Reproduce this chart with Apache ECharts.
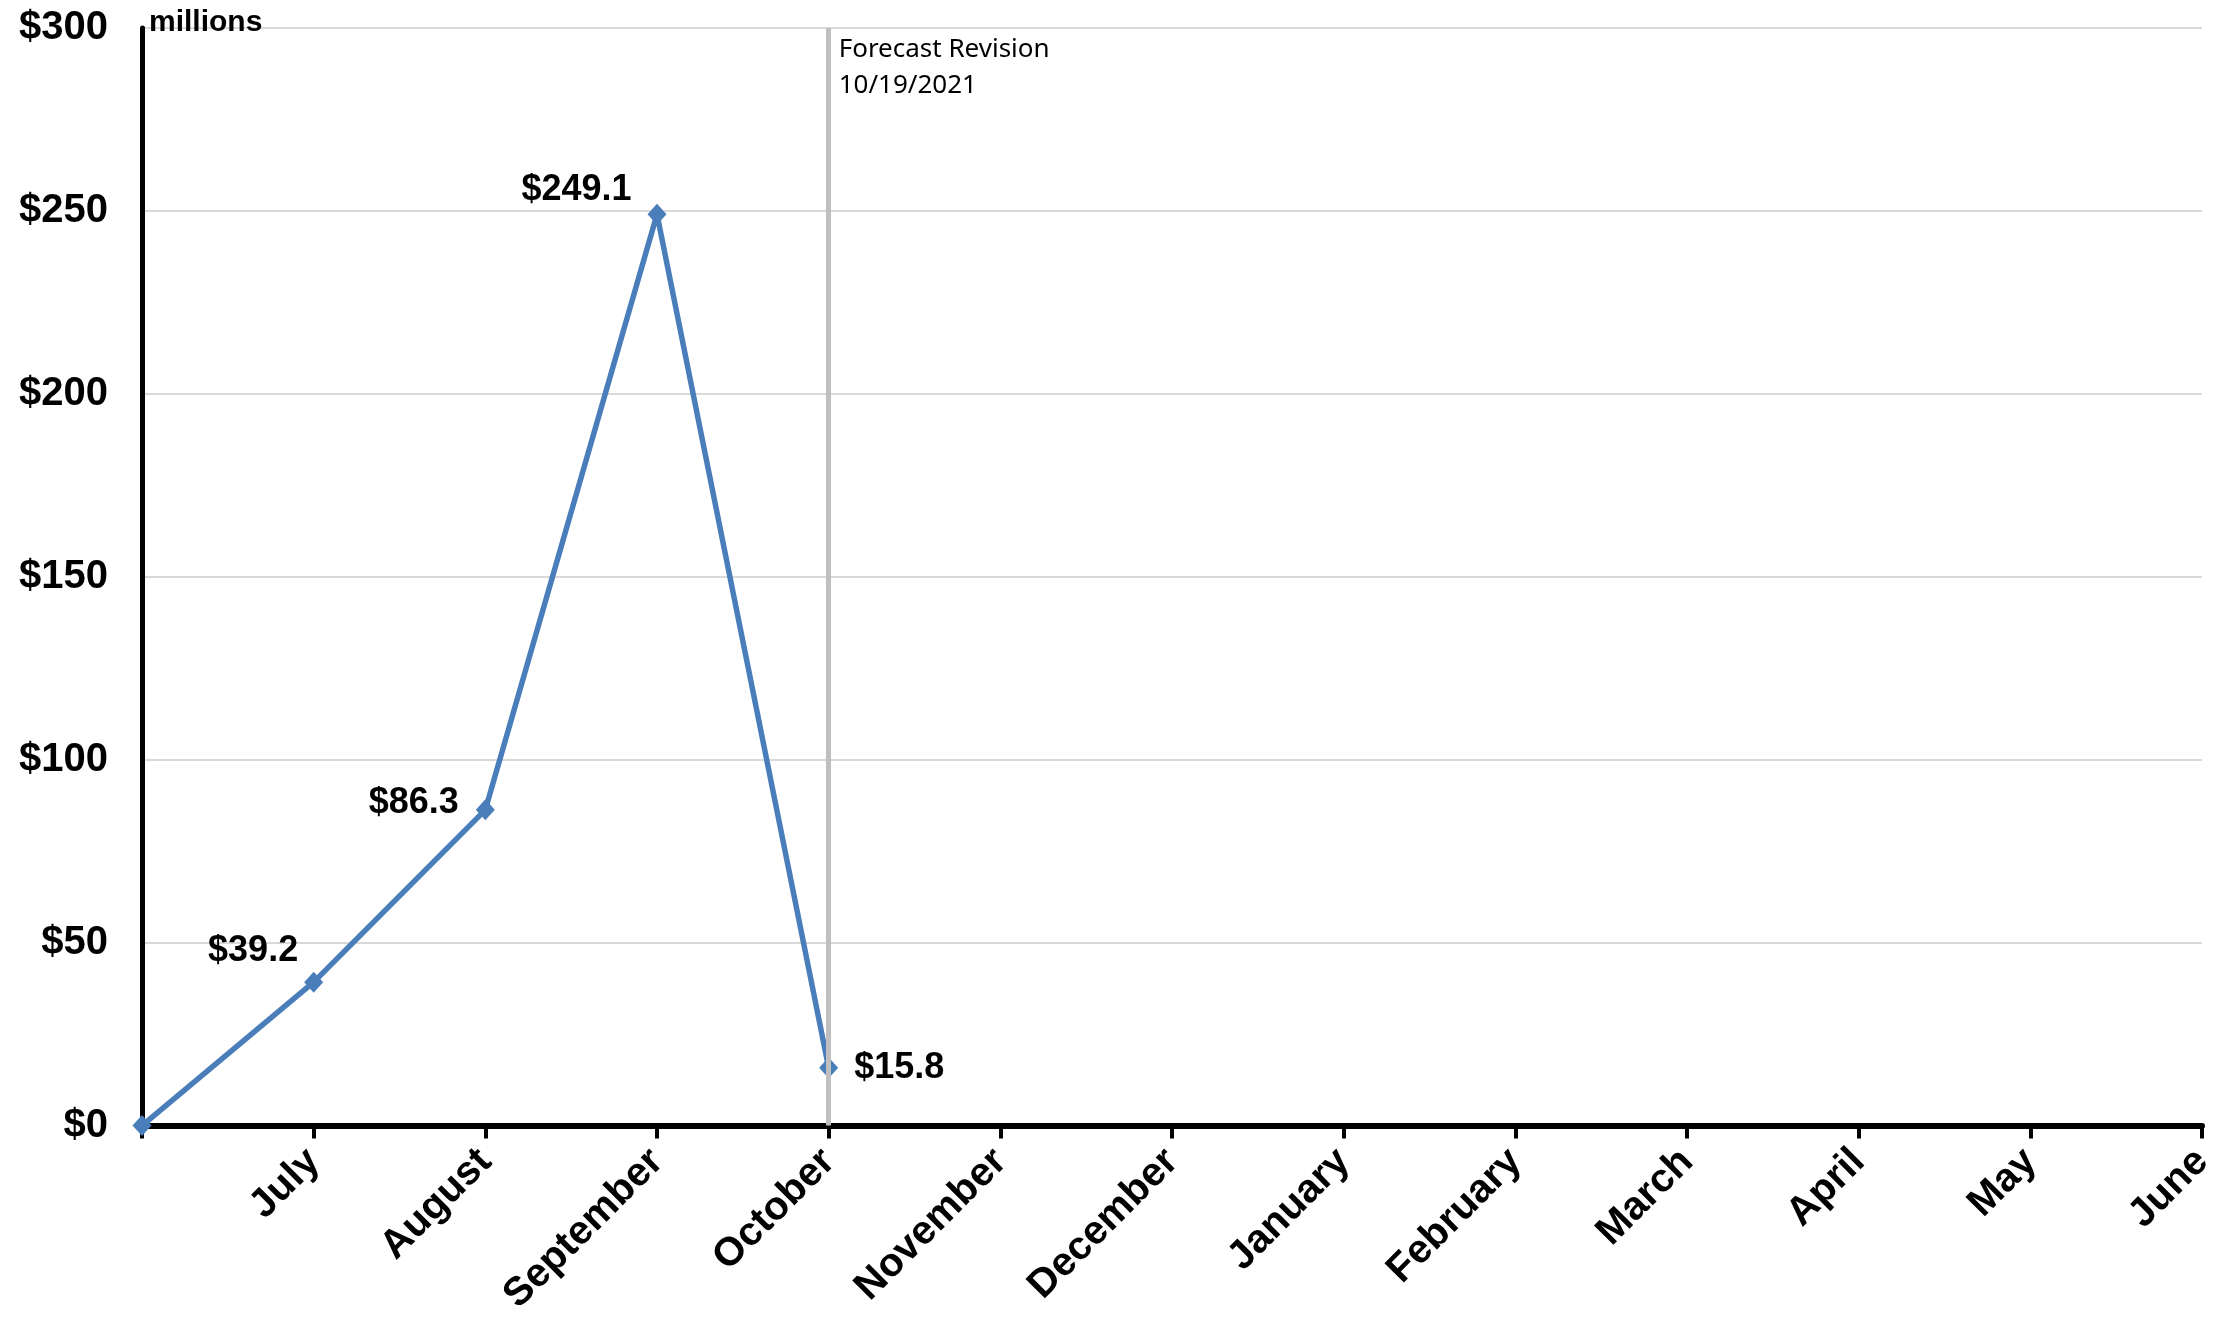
<!DOCTYPE html>
<html>
<head>
<meta charset="utf-8">
<style>
html,body{margin:0;padding:0;background:#fff;overflow:hidden;width:100%;height:100%;}
#chart{width:100vw;height:100vh;}
</style>
<script src="https://cdn.jsdelivr.net/npm/echarts@6/dist/echarts.min.js"></script>
</head>
<body>
<div id="chart"></div>
<script>
// ---- data ----
const categories = ['', 'July', 'August', 'September', 'October', 'November', 'December', 'January', 'February', 'March', 'April', 'May', 'June'];
const values = [0, 39.2, 86.3, 249.1, 15.8];
const yMin = 0, yMax = 300, yStep = 50;
const revisionMonth = 'October';
const revisionText = ['Forecast Revision', '10/19/2021'];
const unitLabel = 'millions';

// ---- label placement per point ----
const labelStyle = {
  1: {position: 'left', distance: 6, offset: [0, -31]},
  2: {position: 'left', distance: 17, offset: [0, -7]},
  3: {position: 'left', distance: 16, offset: [0, -24]},
  4: {position: 'right', distance: 16, offset: [0, 0]}
};

const seriesData = values.map((v, i) => {
  const ls = labelStyle[i];
  return {
    value: v,
    label: ls ? Object.assign({show: true}, ls) : {show: false}
  };
});

const chart = echarts.init(document.getElementById('chart'));
const option = {
  animation: false,
  backgroundColor: '#ffffff',
  grid: {left: 142, right: 21, top: 28, bottom: 186, containLabel: false},
  xAxis: {
    type: 'category',
    data: categories,
    boundaryGap: false,
    axisLine: {show: true, lineStyle: {color: '#000', width: 6}},
    axisTick: {show: true, interval: 0, length: 13, lineStyle: {color: '#000', width: 4}},
    axisLabel: {
      interval: 0, rotate: 45, margin: 30,
      fontFamily: 'Liberation Sans', fontWeight: 'bold', fontSize: 40, color: '#000'
    },
    splitLine: {show: false}
  },
  yAxis: {
    type: 'value',
    min: yMin, max: yMax, interval: yStep,
    name: unitLabel,
    nameLocation: 'end',
    nameGap: -10,
    nameTextStyle: {
      align: 'left', verticalAlign: 'bottom', padding: [0, 0, 0, 7],
      fontFamily: 'Liberation Sans', fontWeight: 'bold', fontSize: 30, color: '#000'
    },
    axisLine: {show: true, lineStyle: {color: '#000', width: 5}},
    axisTick: {show: false},
    axisLabel: {
      margin: 34,
      formatter: v => '$' + v,
      fontFamily: 'Liberation Sans', fontWeight: 'bold', fontSize: 40, color: '#000'
    },
    splitLine: {show: true, lineStyle: {color: '#d9d9d9', width: 2}}
  },
  series: [
    {
      type: 'line',
      data: [],
      z: 1,
      markLine: {
        silent: true,
        symbol: 'none',
        label: {show: false},
        lineStyle: {color: '#bfbfbf', width: 5, type: 'solid'},
        data: [{xAxis: revisionMonth}]
      }
    },
    {
      type: 'line',
      z: 3,
      data: seriesData,
      symbol: 'diamond',
      symbolSize: [19, 21],
      itemStyle: {color: '#4a7ebb'},
      lineStyle: {color: '#4a7ebb', width: 5.5},
      label: {
        formatter: p => '$' + p.value.toFixed(1),
        fontFamily: 'Liberation Sans', fontWeight: 'bold', fontSize: 36, color: '#000'
      }
    }
  ]
};
chart.setOption(option);

// annotation text next to the revision line, positioned through the axes
const revTop = chart.convertToPixel({xAxisIndex: 0, yAxisIndex: 0}, [revisionMonth, yMax]);
chart.setOption({
  graphic: [{
    type: 'text',
    left: revTop[0] + 10,
    top: revTop[1] + 4,
    style: {
      text: revisionText.join('\n'),
      font: '26px "Noto Sans"',
      lineHeight: 36,
      fill: '#000'
    }
  }]
});
</script>
</body>
</html>
